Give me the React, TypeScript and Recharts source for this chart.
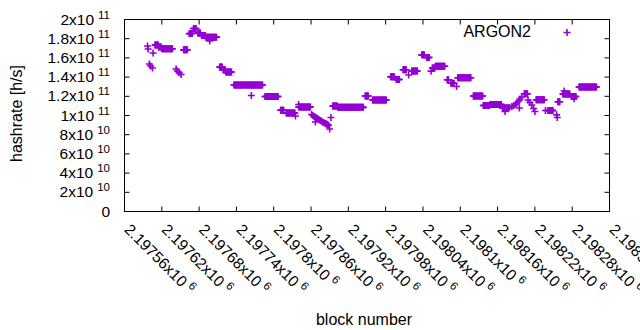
import React from "react";
import { ScatterChart, Scatter, XAxis, YAxis, ReferenceArea } from "recharts";

// runs of blocks sharing one hashrate estimate
const runStart = [
  2197609, 2197615, 2197620, 2197655, 2197665, 2197671, 2197678, 2197684, 2197691,
  2197713, 2197719, 2197723, 2197736, 2197786, 2197811, 2197820, 2197840, 2197895,
  2197903, 2197947, 2197959, 2197988, 2197997, 2198008, 2198022, 2198038, 2198046,
  2198055, 2198060, 2198079, 2198085, 2198096, 2198121, 2198137, 2198148, 2198168,
  2198203, 2198222, 2198241, 2198257, 2198265, 2198279, 2198291,
];
const runEnd = [
  2197614, 2197619, 2197637, 2197661, 2197669, 2197675, 2197682, 2197690, 2197708,
  2197717, 2197722, 2197732, 2197782, 2197807, 2197816, 2197834, 2197859, 2197902,
  2197944, 2197952, 2197981, 2197994, 2198002, 2198013, 2198031, 2198042, 2198050,
  2198059, 2198075, 2198081, 2198090, 2198117, 2198136, 2198147, 2198166, 2198178,
  2198208, 2198235, 2198249, 2198260, 2198276, 2198286, 2198319,
];
const runValue = [
  1.734e11, 1.714e11, 1.695e11, 1.684e11, 1.854e11, 1.906e11, 1.859e11, 1.833e11, 1.816e11,
  1.505e11, 1.474e11, 1.453e11, 1.318e11, 1.198e11, 1.055e11, 1.026e11, 1.089e11, 1.099e11,
  1.085e11, 1.203e11, 1.161e11, 1.403e11, 1.375e11, 1.476e11, 1.464e11, 1.632e11, 1.604e11,
  1.495e11, 1.513e11, 1.372e11, 1.336e11, 1.393e11, 1.203e11, 1.104e11, 1.115e11, 1.078e11,
  1.226e11, 1.164e11, 1.052e11, 1.143e11, 1.224e11, 1.198e11, 1.297e11,
];

// isolated blocks
const singleBlock = [
  2197597, 2197598, 2197606, 2197600, 2197602, 2197605, 2197643, 2197645, 2197648, 2197651,
  2197664, 2197697, 2197764, 2197835, 2197840, 2197861, 2197863, 2197865, 2197867, 2197867,
  2197869, 2197871, 2197873, 2197875, 2197877, 2197879, 2197881, 2197883, 2197885, 2197886,
  2197888, 2197890, 2197892, 2198017, 2198053, 2198094, 2198172, 2198179, 2198183, 2198186,
  2198189, 2198191, 2198194, 2198195, 2198196, 2198199, 2198209, 2198212, 2198215, 2198218,
  2198220, 2198237, 2198255, 2198256, 2198267, 2198283,
];
const singleValue = [
  1.724e11, 1.693e11, 1.651e11, 1.536e11, 1.516e11, 1.495e11, 1.484e11, 1.464e11, 1.445e11, 1.427e11,
  1.851e11, 1.776e11, 1.208e11, 0.995e11, 1.115e11, 1.01e11, 1.0e11, 0.99e11, 0.982e11, 0.932e11,
  0.975e11, 0.966e11, 0.957e11, 0.948e11, 0.94e11, 0.93e11, 0.925e11, 0.917e11, 0.912e11, 0.906e11,
  0.9e11, 0.859e11, 0.979e11, 1.422e11, 1.462e11, 1.302e11, 1.042e11, 1.083e11, 1.094e11, 1.104e11,
  1.115e11, 1.13e11, 1.151e11, 1.078e11, 1.172e11, 1.193e11, 1.161e11, 1.135e11, 1.109e11, 1.073e11,
  1.042e11, 1.052e11, 1.007e11, 0.979e11, 1.255e11, 1.174e11,
];

const xTicks = [
  2197560, 2197620, 2197680, 2197740, 2197800, 2197860, 2197920,
  2197980, 2198040, 2198100, 2198160, 2198220, 2198280, 2198340,
];
const xTickLabels = [
  "2.19756x10^6", "2.19762x10^6", "2.19768x10^6", "2.19774x10^6", "2.1978x10^6",
  "2.19786x10^6", "2.19792x10^6", "2.19798x10^6", "2.19804x10^6", "2.1981x10^6",
  "2.19816x10^6", "2.19822x10^6", "2.19828x10^6", "2.19834x10^6",
];
const yTicks = [0, 2e10, 4e10, 6e10, 8e10, 1e11, 1.2e11, 1.4e11, 1.6e11, 1.8e11, 2e11];
const yTickLabels = [
  "0", "2x10^10", "4x10^10", "6x10^10", "8x10^10", "1x10^11",
  "1.2x10^11", "1.4x10^11", "1.6x10^11", "1.8x10^11", "2x10^11",
];

const points: { block: number; hashrate: number }[] = [];
runStart.forEach((s, i) => {
  for (let b = s; b <= runEnd[i]; b++) points.push({ block: b, hashrate: runValue[i] });
});
singleBlock.forEach((b, i) => points.push({ block: b, hashrate: singleValue[i] }));

const COLOR = "#9400D3";
const FONT = "'Liberation Sans', Arial, sans-serif";
const PLOT_TOP = 19.5;
const PLOT_RIGHT = 609.5;
const TICK = 5;

function Sup({ label }: { label: string }) {
  const [base, exp] = label.split("^");
  return (
    <>
      {base}
      {exp && (
        <tspan dx={4} dy={-6} fontSize={11.5}>
          {exp}
        </tspan>
      )}
    </>
  );
}

function XTick(props: any) {
  const { x, y, payload } = props;
  const label = xTickLabels[xTicks.indexOf(payload.value)] ?? "";
  return (
    <g>
      <line x1={x} y1={y} x2={x} y2={y - TICK} stroke="#000" />
      <line x1={x} y1={PLOT_TOP} x2={x} y2={PLOT_TOP + TICK} stroke="#000" />
      <text
        transform={`translate(${x - 1},${y + 19}) rotate(45)`}
        fontSize={15.5}
        fontFamily={FONT}
        fill="#000"
      >
        <Sup label={label} />
      </text>
    </g>
  );
}

function YTick(props: any) {
  const { x, y, payload } = props;
  const label = yTickLabels[yTicks.indexOf(payload.value)] ?? "";
  return (
    <g>
      <line x1={x} y1={y} x2={x + TICK} y2={y} stroke="#000" />
      <line x1={PLOT_RIGHT} y1={y} x2={PLOT_RIGHT - TICK} y2={y} stroke="#000" />
      <text x={x - 14.5} y={y + 5} textAnchor="end" fontSize={15.5} fontFamily={FONT} fill="#000">
        <Sup label={label} />
      </text>
    </g>
  );
}

function Plus(props: any) {
  const { cx, cy } = props;
  if (cx == null || cy == null) return null;
  return (
    <path
      d={`M${cx - 3.5},${cy}H${cx + 3.5}M${cx},${cy - 3.5}V${cy + 3.5}`}
      stroke={COLOR}
      strokeWidth={1.6}
      fill="none"
    />
  );
}

export default function App() {
  return (
    <div style={{ position: "absolute", left: 0, top: 0, width: 640, height: 330, background: "#fff" }}>
      <ScatterChart width={640} height={330} margin={{ top: 19.5, right: 30.5, bottom: 0, left: 0 }}>
        <XAxis
          type="number"
          dataKey="block"
          domain={[2197560, 2198340]}
          ticks={xTicks}
          interval={0}
          tick={<XTick />}
          tickLine={false}
          axisLine={false}
          tickSize={0}
          tickMargin={0}
          height={118.5}
          allowDataOverflow
          label={(p: any) => {
            const vb = p.viewBox || { x: 124.5, y: 211.5, width: 485 };
            return (
              <text x={vb.x + vb.width / 2 - 3} y={vb.y + 113.5} textAnchor="middle" fontSize={16} fontFamily={FONT} fill="#000">
                block number
              </text>
            );
          }}
        />
        <YAxis
          type="number"
          dataKey="hashrate"
          domain={[0, 2e11]}
          ticks={yTicks}
          interval={0}
          tick={<YTick />}
          tickLine={false}
          axisLine={false}
          tickSize={0}
          tickMargin={0}
          width={124.5}
          allowDataOverflow
          label={(p: any) => {
            const vb = p.viewBox || { x: 0, y: 19.5, height: 192 };
            const cy = vb.y + vb.height / 2 - 2;
            return (
              <text transform={`translate(${vb.x + 22},${cy}) rotate(-90)`} textAnchor="middle" fontSize={16} fontFamily={FONT} fill="#000">
                hashrate [h/s]
              </text>
            );
          }}
        />
        <ReferenceArea x1={2197560} x2={2198340} y1={0} y2={2e11} fill="none" stroke="#000" strokeWidth={1} />
        <Scatter data={points} shape={<Plus />} isAnimationActive={false} />
      </ScatterChart>
      <svg width={640} height={330} style={{ position: "absolute", left: 0, top: 0, pointerEvents: "none" }}>
        <text x={531} y={37} textAnchor="end" fontSize={16} fontFamily={FONT} fill="#000">
          ARGON2
        </text>
        <path d="M563.5,32.5H570.5M567,29V36" stroke={COLOR} strokeWidth={1.6} fill="none" />
      </svg>
    </div>
  );
}
